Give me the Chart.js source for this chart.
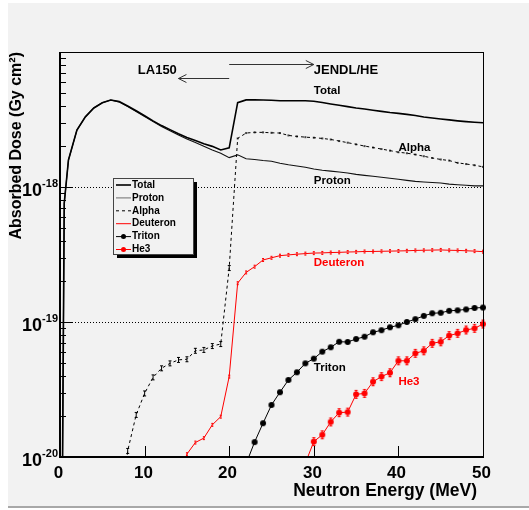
<!DOCTYPE html>
<html>
<head>
<meta charset="utf-8">
<style>
    html, body { margin: 0; padding: 0; background: #fff; }
    canvas { display: block; }
</style>
</head>
<body>
<canvas id="myChart" width="529" height="510"></canvas>

<script src="https://cdn.jsdelivr.net/npm/chart.js@4.4.0/dist/chart.umd.min.js"></script>
<script>
    // neutron energy (MeV) and absorbed dose (Gy cm2)
    const totalE = [0.25, 0.5, 1, 2, 3, 4, 5, 6, 7, 8, 9, 10, 11, 12, 13, 14, 15, 16, 17, 18, 19, 20,
        21, 22, 23, 24, 25, 26, 27, 28, 29, 30, 31, 32, 33, 34, 35, 36, 37, 38, 39, 40,
        41, 42, 43, 44, 45, 46, 47, 48, 49, 50]
    const totalDose = [3.2e-21, 7.59e-19, 1.585e-18, 2.64e-18, 3.31e-18, 3.85e-18, 4.21e-18, 4.41e-18, 4.29e-18, 3.98e-18,
        3.67e-18, 3.37e-18, 3.09e-18, 2.85e-18, 2.66e-18, 2.48e-18, 2.33e-18, 2.21e-18, 2.09e-18, 2.00e-18,
        1.88e-18, 1.95e-18, 4.21e-18, 4.42e-18, 4.42e-18, 4.41e-18, 4.39e-18, 4.35e-18, 4.35e-18, 4.35e-18,
        4.35e-18, 4.32e-18, 4.22e-18, 4.12e-18, 4.03e-18, 3.94e-18, 3.85e-18, 3.78e-18, 3.70e-18, 3.63e-18,
        3.56e-18, 3.51e-18, 3.45e-18, 3.39e-18, 3.30e-18, 3.24e-18, 3.19e-18, 3.14e-18, 3.09e-18, 3.05e-18,
        3.02e-18, 2.99e-18]
    const protonE = totalE
    const protonDose = [3.2e-21, 7.59e-19, 1.585e-18, 2.64e-18, 3.31e-18, 3.85e-18, 4.21e-18, 4.41e-18, 4.27e-18, 3.95e-18,
        3.63e-18, 3.33e-18, 3.05e-18, 2.81e-18, 2.61e-18, 2.43e-18, 2.27e-18, 2.14e-18, 2.00e-18, 1.88e-18,
        1.78e-18, 1.65e-18, 1.73e-18, 1.62e-18, 1.60e-18, 1.57e-18, 1.55e-18, 1.50e-18, 1.46e-18, 1.43e-18,
        1.40e-18, 1.36e-18, 1.33e-18, 1.31e-18, 1.29e-18, 1.27e-18, 1.24e-18, 1.22e-18, 1.20e-18, 1.18e-18,
        1.16e-18, 1.14e-18, 1.12e-18, 1.10e-18, 1.09e-18, 1.08e-18, 1.07e-18, 1.05e-18, 1.04e-18, 1.03e-18,
        1.02e-18, 1.02e-18]
    const alphaE = [7, 8, 9, 10, 11, 12, 13, 14, 15, 16, 17, 18, 19, 20, 21, 22, 23, 24, 25, 26, 27, 28,
        29, 30, 31, 32, 33, 34, 35, 36, 37, 38, 39, 40, 41, 42, 43, 44, 45, 46, 47, 48, 49, 50]
    const alphaDose = [2.5e-21, 1.11e-20, 2.05e-20, 2.96e-20, 3.89e-20, 4.54e-20, 4.94e-20, 5.24e-20, 5.30e-20, 6.12e-20,
        6.21e-20, 6.64e-20, 6.87e-20, 2.51e-19, 2.29e-18, 2.51e-18, 2.54e-18, 2.54e-18, 2.52e-18, 2.51e-18,
        2.41e-18, 2.37e-18, 2.34e-18, 2.32e-18, 2.29e-18, 2.25e-18, 2.19e-18, 2.13e-18, 2.07e-18, 2.01e-18,
        1.96e-18, 1.91e-18, 1.86e-18, 1.81e-18, 1.78e-18, 1.74e-18, 1.69e-18, 1.64e-18, 1.60e-18, 1.57e-18,
        1.51e-18, 1.48e-18, 1.45e-18, 1.41e-18]
    const deuteronE = [14, 15, 16, 17, 18, 19, 20, 21, 22, 23, 24, 25, 26, 27, 28, 29, 30, 31, 32,
        33, 34, 35, 36, 37, 38, 39, 40, 41, 42, 43, 44, 45, 46, 47, 48, 49, 50]
    const deuteronDose = [4.0e-21, 1.05e-20, 1.28e-20, 1.38e-20, 1.73e-20, 1.99e-20, 3.94e-20, 1.94e-19, 2.33e-19, 2.57e-19,
        2.88e-19, 2.99e-19, 3.10e-19, 3.14e-19, 3.18e-19, 3.21e-19, 3.24e-19, 3.25e-19, 3.27e-19, 3.28e-19,
        3.30e-19, 3.31e-19, 3.33e-19, 3.33e-19, 3.34e-19, 3.35e-19, 3.36e-19, 3.37e-19, 3.39e-19, 3.40e-19,
        3.41e-19, 3.42e-19, 3.40e-19, 3.39e-19, 3.37e-19, 3.35e-19, 3.32e-19]
    const tritonE = [22, 23, 24, 25, 26, 27, 28, 29, 30, 31, 32, 33, 34, 35, 36, 37, 38, 39, 40,
        41, 42, 43, 44, 45, 46, 47, 48, 49, 50]
    const tritonDose = [8.9e-21, 1.29e-20, 1.78e-20, 2.43e-20, 3.02e-20, 3.72e-20, 4.24e-20, 4.94e-20, 5.35e-20, 6.03e-20,
        6.50e-20, 7.14e-20, 7.11e-20, 7.48e-20, 7.78e-20, 8.39e-20, 8.69e-20, 9.14e-20, 9.46e-20, 1.00e-19,
        1.05e-19, 1.11e-19, 1.16e-19, 1.17e-19, 1.21e-19, 1.22e-19, 1.24e-19, 1.27e-19, 1.28e-19]
    const he3E = [29, 30, 31, 32, 33, 34, 35, 36, 37, 38, 39, 40, 41, 42, 43, 44, 45, 46, 47, 48, 49, 50]
    const he3Dose = [9.0e-21, 1.30e-20, 1.46e-20, 1.82e-20, 2.13e-20, 2.15e-20, 2.91e-20, 2.96e-20, 3.61e-20, 3.94e-20,
        4.21e-20, 5.16e-20, 5.16e-20, 5.86e-20, 6.12e-20, 6.95e-20, 7.14e-20, 7.93e-20, 8.24e-20, 8.73e-20,
        8.97e-20, 9.66e-20]

    const xTicks = [0, 10, 20, 30, 40, 50]
    const yDecades = [-20, -19, -18]

    const FONT = '"Liberation Sans", Arial, Helvetica, sans-serif'

    function pairs(xs, ys) {
        return xs.map((x, i) => ({x: x, y: ys[i]}))
    }

    // small marker: error bar with caps and optional filled dot
    function barMarker(color, half, cap, dot) {
        const w = Math.ceil(2 * Math.max(cap, dot) + 4)
        const h = Math.ceil(2 * Math.max(half, dot) + 4)
        const cv = document.createElement('canvas')
        cv.width = w
        cv.height = h
        const c = cv.getContext('2d')
        const cx = w / 2, cy = h / 2
        c.strokeStyle = color
        c.fillStyle = color
        c.lineWidth = 1
        c.beginPath()
        c.moveTo(cx, cy - half); c.lineTo(cx, cy + half)
        if (cap > 0) {
            c.moveTo(cx - cap, cy - half + 0.5); c.lineTo(cx + cap, cy - half + 0.5)
            c.moveTo(cx - cap, cy + half - 0.5); c.lineTo(cx + cap, cy + half - 0.5)
        }
        c.stroke()
        if (dot > 0) {
            c.beginPath()
            c.arc(cx, cy, dot, 0, Math.PI * 2)
            c.fill()
        }
        return cv
    }

    const alphaBar = barMarker('#000', 3, 1.5, 0)
    const alphaDot = barMarker('#000', 1, 0, 0.8)
    const clipRight = {left: 0, top: 0, right: 6, bottom: 0}

    const datasets = [
        {label: 'Total', data: pairs(totalE, totalDose), borderColor: '#000', borderWidth: 1.6, pointRadius: 0},
        {label: 'Proton', data: pairs(protonE, protonDose), borderColor: '#111', borderWidth: 1.1, pointRadius: 0,
            legendColor: '#777'},
        {label: 'Alpha', data: pairs(alphaE, alphaDose), borderColor: '#000', borderWidth: 1, borderDash: [3, 3],
            pointStyle: c => (c.raw && c.raw.y < 1e-18 ? alphaBar : alphaDot), pointRadius: 1},
        {label: 'Deuteron', data: pairs(deuteronE, deuteronDose), borderColor: '#ff0000', borderWidth: 1,
            pointStyle: barMarker('#ff0000', 2, 1, 0), pointRadius: 1},
        {label: 'Triton', data: pairs(tritonE, tritonDose), borderColor: '#000', backgroundColor: '#000', borderWidth: 1,
            pointStyle: barMarker('#000', 2, 1, 3), pointRadius: 1, marker: true},
        {label: 'He3', data: pairs(he3E, he3Dose), borderColor: '#ff0000', backgroundColor: '#ff0000', borderWidth: 1,
            pointStyle: barMarker('#ff0000', 4.5, 1.5, 3), pointRadius: 1, marker: true}
    ]
    datasets.forEach(d => { d.clip = clipRight; d.tension = 0; d.fill = false })

    const rootStyle = {
        id: 'rootStyle',
        beforeDraw(chart) {
            const c = chart.ctx
            c.save()
            c.fillStyle = '#fff'
            c.fillRect(0, 0, chart.width, chart.height)
            c.fillStyle = '#f2f2f2'
            c.fillRect(8, 3, chart.width - 8, 503)
            c.fillStyle = '#a8a8a8'
            c.fillRect(8, 506, chart.width - 8, 2)
            c.restore()
        },
        beforeDatasetsDraw(chart) {
            const c = chart.ctx, a = chart.chartArea, y = chart.scales.y
            c.save()
            c.strokeStyle = '#000'
            c.lineWidth = 1
            c.setLineDash([1, 2])
            for (const d of [-19, -18]) {
                const py = Math.round(y.getPixelForValue(Math.pow(10, d))) + 0.5
                c.beginPath()
                c.moveTo(a.left, py)
                c.lineTo(a.right, py)
                c.stroke()
            }
            c.restore()
        },
        afterDatasetsDraw(chart) {
            const c = chart.ctx, a = chart.chartArea
            const xs = chart.scales.x, ys = chart.scales.y
            c.save()

            // frame
            c.strokeStyle = '#000'
            c.lineWidth = 1
            c.strokeRect(a.left + 0.5, a.top + 0.5, a.right - a.left, a.bottom - a.top)
            c.lineWidth = 2
            c.beginPath()
            c.moveTo(a.left, a.top)
            c.lineTo(a.left, a.bottom)
            c.lineTo(a.right + 1, a.bottom)
            c.stroke()

            // x ticks and labels
            c.lineWidth = 1
            c.fillStyle = '#000'
            c.font = 'bold 17px ' + FONT
            c.textAlign = 'center'
            c.textBaseline = 'alphabetic'
            for (const t of xTicks) {
                const px = Math.round(xs.getPixelForValue(t)) + 0.5
                c.beginPath()
                c.moveTo(px, a.bottom)
                c.lineTo(px, a.bottom - 11)
                c.stroke()
                c.fillText(String(t), px - 2, a.bottom + 21)
            }
            c.font = 'bold 17.5px ' + FONT
            c.textAlign = 'right'
            c.fillText('Neutron Energy (MeV)', 477, 496)

            // y ticks and labels
            for (const d of yDecades) {
                for (let m = 1; m <= 9; m++) {
                    const py = Math.round(ys.getPixelForValue(m * Math.pow(10, d))) + 0.5
                    c.beginPath()
                    c.moveTo(a.left, py)
                    c.lineTo(a.left + (m === 1 ? 12 : 6), py)
                    c.stroke()
                }
                const py = ys.getPixelForValue(Math.pow(10, d))
                c.font = 'bold 11px ' + FONT
                const sup = String(d)
                const sw = c.measureText(sup).width
                c.textAlign = 'left'
                c.fillText(sup, 58 - sw, py)
                c.font = 'bold 18px ' + FONT
                c.textAlign = 'right'
                c.fillText('10', 58 - sw, py + 9)
            }
            c.translate(17, a.top)
            c.rotate(-Math.PI / 2)
            c.font = 'bold 16px ' + FONT
            c.textAlign = 'right'
            c.textBaseline = 'middle'
            c.fillText('Absorbed Dose (Gy cm\u00b2)', 0, 0)
            c.setTransform(1, 0, 0, 1, 0, 0)

            // arrows and curve labels
            const X = v => xs.getPixelForValue(v)
            const Y = v => ys.getPixelForValue(v)
            c.strokeStyle = '#333'
            c.lineWidth = 1
            const arrow = (x0, x1, yv) => {
                const p0 = X(x0), p1 = X(x1), py = Math.round(Y(yv)) + 0.5
                const dir = Math.sign(p1 - p0)
                c.beginPath()
                c.moveTo(p0, py); c.lineTo(p1, py)
                c.moveTo(p1 - dir * 8, py - 4); c.lineTo(p1, py); c.lineTo(p1 - dir * 8, py + 4)
                c.stroke()
            }
            arrow(20, 14, 6.4e-18)
            arrow(20, 30, 8.15e-18)

            c.textAlign = 'left'
            c.textBaseline = 'middle'
            const note = (txt, ev, dv, size, color) => {
                c.font = 'bold ' + size + 'px ' + FONT
                c.fillStyle = color
                c.fillText(txt, X(ev), Y(dv))
            }
            note('LA150', 9.2, 7.36e-18, 13, '#000')
            note('JENDL/HE', 30, 7.36e-18, 13, '#000')
            note('Total', 30, 5.14e-18, 11.5, '#000')
            note('Alpha', 40, 1.95e-18, 11.5, '#000')
            note('Proton', 30, 1.11e-18, 11.5, '#000')
            note('Deuteron', 30, 2.74e-19, 11.5, '#ff0000')
            note('Triton', 30, 4.56e-20, 11.5, '#000')
            note('He3', 40, 3.60e-20, 11.5, '#ff0000')

            // legend box with shadow
            const lx = 113, ly = 178, lw = 80, lh = 76
            c.fillStyle = '#000'
            c.fillRect(lx + 4, ly + 4, lw, lh)
            c.fillStyle = '#f2f2f2'
            c.fillRect(lx, ly, lw, lh)
            c.strokeStyle = '#444'
            c.strokeRect(lx + 0.5, ly + 0.5, lw, lh)
            c.font = 'bold 10px ' + FONT
            chart.data.datasets.forEach((ds, i) => {
                const ey = ly + 7 + i * 12.9
                c.save()
                c.strokeStyle = ds.legendColor || ds.borderColor
                c.lineWidth = ds.borderWidth
                c.setLineDash(ds.borderDash || [])
                c.beginPath()
                c.moveTo(116, ey); c.lineTo(131, ey)
                c.stroke()
                if (ds.marker) {
                    c.fillStyle = ds.backgroundColor
                    c.beginPath()
                    c.arc(123.5, ey, 2.5, 0, Math.PI * 2)
                    c.fill()
                }
                c.restore()
                c.fillStyle = '#000'
                c.fillText(ds.label, 132, ey)
            })
            c.restore()
        }
    }

    const ctx = document.getElementById('myChart')
    const chart = new Chart(ctx, {
        type: 'line',
        data: {datasets: datasets},
        options: {
            responsive: false,
            animation: false,
            layout: {padding: {left: 60, right: 46, top: 52, bottom: 53}},
            plugins: {legend: {display: false}, tooltip: {enabled: false}},
            scales: {
                x: {type: 'linear', min: 0, max: 50, display: false},
                y: {type: 'logarithmic', min: 1e-20, max: 1e-17, display: false}
            }
        },
        plugins: [rootStyle]
    })
</script>
</body>
</html>
